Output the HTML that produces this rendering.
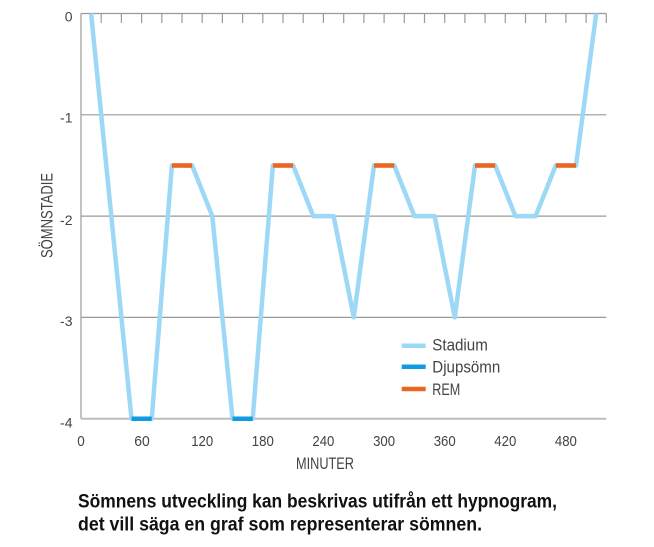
<!DOCTYPE html>
<html>
<head>
<meta charset="utf-8">
<style>
  html,body{margin:0;padding:0;background:#fff;}
  svg{display:block;}
  text{font-family:"Liberation Sans Narrow","Liberation Sans",sans-serif;fill:#444;}
  .cap{font-family:"Liberation Sans Narrow","Liberation Sans",sans-serif;font-weight:bold;fill:#111;}
</style>
</head>
<body>
<svg width="654" height="547" viewBox="0 0 654 547" xmlns="http://www.w3.org/2000/svg">
  <!-- grid -->
  <g stroke="#9a9a9a" stroke-width="1.2" fill="none">
    <line x1="81" y1="13.5" x2="606.3" y2="13.5"/>
    <line x1="81" y1="114.8" x2="606.3" y2="114.8"/>
    <line x1="81" y1="216.1" x2="606.3" y2="216.1"/>
    <line x1="81" y1="317.4" x2="606.3" y2="317.4"/>
    <line x1="81" y1="13.5" x2="81" y2="418.7"/>
  </g>
  <line x1="81" y1="418.7" x2="606.3" y2="418.7" stroke="#bdbdbd" stroke-width="2"/>
  <!-- top ticks -->
  <g stroke="#9a9a9a" stroke-width="1.2">
    <line x1="101.2" y1="13.5" x2="101.2" y2="23"/>
    <line x1="121.4" y1="13.5" x2="121.4" y2="23"/>
    <line x1="141.6" y1="13.5" x2="141.6" y2="23"/>
    <line x1="161.8" y1="13.5" x2="161.8" y2="23"/>
    <line x1="182.0" y1="13.5" x2="182.0" y2="23"/>
    <line x1="202.2" y1="13.5" x2="202.2" y2="23"/>
    <line x1="222.4" y1="13.5" x2="222.4" y2="23"/>
    <line x1="242.6" y1="13.5" x2="242.6" y2="23"/>
    <line x1="262.8" y1="13.5" x2="262.8" y2="23"/>
    <line x1="283.0" y1="13.5" x2="283.0" y2="23"/>
    <line x1="303.2" y1="13.5" x2="303.2" y2="23"/>
    <line x1="323.4" y1="13.5" x2="323.4" y2="23"/>
    <line x1="343.7" y1="13.5" x2="343.7" y2="23"/>
    <line x1="363.9" y1="13.5" x2="363.9" y2="23"/>
    <line x1="384.1" y1="13.5" x2="384.1" y2="23"/>
    <line x1="404.3" y1="13.5" x2="404.3" y2="23"/>
    <line x1="424.5" y1="13.5" x2="424.5" y2="23"/>
    <line x1="444.7" y1="13.5" x2="444.7" y2="23"/>
    <line x1="464.9" y1="13.5" x2="464.9" y2="23"/>
    <line x1="485.1" y1="13.5" x2="485.1" y2="23"/>
    <line x1="505.3" y1="13.5" x2="505.3" y2="23"/>
    <line x1="525.5" y1="13.5" x2="525.5" y2="23"/>
    <line x1="545.7" y1="13.5" x2="545.7" y2="23"/>
    <line x1="565.9" y1="13.5" x2="565.9" y2="23"/>
    <line x1="586.1" y1="13.5" x2="586.1" y2="23"/>
    <line x1="606.3" y1="13.5" x2="606.3" y2="23"/>
  </g>

  <!-- series -->
  <polyline fill="none" stroke="#9dd8f6" stroke-width="4.5" stroke-linejoin="round"
    points="91.1,13.5 131.5,418.7 151.7,418.7 171.9,165.5 192.1,165.5 212.3,216.1 232.5,418.7 252.7,418.7 272.9,165.5 293.1,165.5 313.3,216.1 333.6,216.1 353.8,317.4 374.0,165.5 394.2,165.5 414.4,216.1 434.6,216.1 454.8,317.4 475.0,165.5 495.2,165.5 515.4,216.1 535.6,216.1 555.8,165.5 576.0,165.5 596.2,13.5"/>
  <g stroke="#0e9be0" stroke-width="4.5">
    <line x1="131.5" y1="418.7" x2="151.7" y2="418.7"/>
    <line x1="232.5" y1="418.7" x2="252.7" y2="418.7"/>
  </g>
  <g stroke="#ee6520" stroke-width="4.5">
    <line x1="171.9" y1="165.5" x2="192.1" y2="165.5"/>
    <line x1="272.9" y1="165.5" x2="293.1" y2="165.5"/>
    <line x1="374.0" y1="165.5" x2="394.2" y2="165.5"/>
    <line x1="475.0" y1="165.5" x2="495.2" y2="165.5"/>
    <line x1="555.8" y1="165.5" x2="576.0" y2="165.5"/>
  </g>

  <!-- y labels -->
  <g font-size="14" text-anchor="end">
    <text x="72.5" y="21.7">0</text>
    <text x="72.5" y="122.5">-1</text>
    <text x="72.5" y="225">-2</text>
    <text x="72.5" y="326">-3</text>
    <text x="72.5" y="427.5">-4</text>
  </g>
  <!-- x labels -->
  <g font-size="15" text-anchor="middle">
    <text x="81" y="446" textLength="7.5" lengthAdjust="spacingAndGlyphs">0</text>
    <text x="142" y="446" textLength="15.5" lengthAdjust="spacingAndGlyphs">60</text>
    <text x="202.2" y="446" textLength="22" lengthAdjust="spacingAndGlyphs">120</text>
    <text x="262.8" y="446" textLength="22" lengthAdjust="spacingAndGlyphs">180</text>
    <text x="323.4" y="446" textLength="22" lengthAdjust="spacingAndGlyphs">240</text>
    <text x="384.1" y="446" textLength="22" lengthAdjust="spacingAndGlyphs">300</text>
    <text x="444.7" y="446" textLength="22" lengthAdjust="spacingAndGlyphs">360</text>
    <text x="505.3" y="446" textLength="22" lengthAdjust="spacingAndGlyphs">420</text>
    <text x="565.9" y="446" textLength="22" lengthAdjust="spacingAndGlyphs">480</text>
  </g>
  <text x="296" y="469" font-size="17" textLength="58" lengthAdjust="spacingAndGlyphs">MINUTER</text>
  <text x="0" y="0" font-size="16.5" text-anchor="middle" transform="translate(52.3,215.5) rotate(-90)" textLength="85" lengthAdjust="spacingAndGlyphs">SÖMNSTADIE</text>

  <!-- legend -->
  <g stroke-width="4.5">
    <line x1="401.7" y1="345.7" x2="425.7" y2="345.7" stroke="#9dd8f6"/>
    <line x1="401.7" y1="366.7" x2="425.7" y2="366.7" stroke="#0e9be0"/>
    <line x1="401.7" y1="389" x2="425.7" y2="389" stroke="#ee6520"/>
  </g>
  <g font-size="16.5">
    <text x="432.3" y="350.7" textLength="55.5" lengthAdjust="spacingAndGlyphs">Stadium</text>
    <text x="432.3" y="372.3" textLength="68" lengthAdjust="spacingAndGlyphs">Djupsömn</text>
    <text x="432.3" y="394.8" textLength="28" lengthAdjust="spacingAndGlyphs">REM</text>
  </g>

  <!-- caption -->
  <text class="cap" x="78" y="507.3" font-size="19" textLength="479" lengthAdjust="spacingAndGlyphs">Sömnens utveckling kan beskrivas utifrån ett hypnogram,</text>
  <text class="cap" x="78" y="530.7" font-size="19" textLength="404" lengthAdjust="spacingAndGlyphs">det vill säga en graf som representerar sömnen.</text>
</svg>
</body>
</html>
